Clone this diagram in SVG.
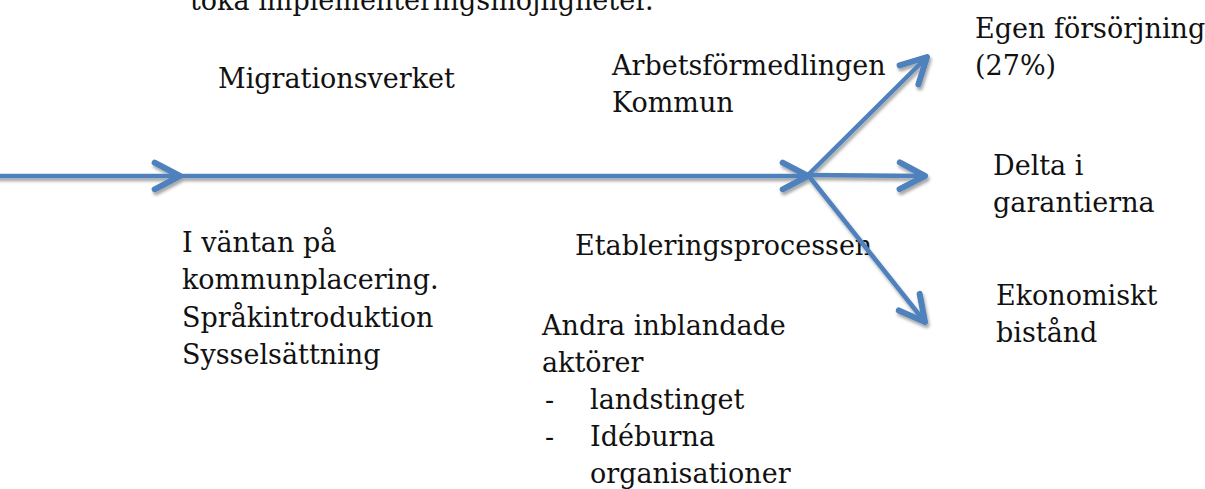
<svg xmlns="http://www.w3.org/2000/svg" width="1205" height="489" viewBox="0 0 1205 489">
<style>
.t{font-family:"DejaVu Serif","Liberation Serif",serif;font-size:27px;fill:#111}
.c{fill:none;stroke:#4F81BD;stroke-width:4.5;stroke-linecap:round}
</style>
<defs>
<marker id="ah" markerUnits="userSpaceOnUse" markerWidth="40" markerHeight="40" viewBox="-25 -15 30 30" refX="0" refY="0" orient="auto">
<path d="M-19,-10 L0,0 L-19,10" fill="none" stroke="#4F81BD" stroke-width="4.5" stroke-linecap="round" stroke-linejoin="round"/>
</marker>
<filter id="sh" x="-5%" y="-20%" width="110%" height="140%">
<feDropShadow dx="1.5" dy="3" stdDeviation="1.5" flood-color="#000" flood-opacity="0.35"/>
</filter>
</defs>
<g id="texts">
<g id="note"><text class="t" x="190" y="10">töka implementeringsmöjligheter.</text></g>
<g id="migrationsverket"><text class="t" x="218" y="88">Migrationsverket</text></g>
<g id="arbetsformedlingen"><text class="t" x="612" y="75">Arbetsförmedlingen</text><text class="t" x="612" y="112">Kommun</text></g>
<g id="egen"><text class="t" x="975" y="38">Egen försörjning</text><text class="t" x="975" y="75">(27%)</text></g>
<g id="delta"><text class="t" x="993" y="175">Delta i</text><text class="t" x="993" y="212">garantierna</text></g>
<g id="ekonomiskt"><text class="t" x="996" y="305">Ekonomiskt</text><text class="t" x="996" y="342">bistånd</text></g>
<g id="vantan"><text class="t" x="182" y="252">I väntan på</text><text class="t" x="182" y="289">kommunplacering.</text><text class="t" x="182" y="327">Språkintroduktion</text><text class="t" x="182" y="364">Sysselsättning</text></g>
<g id="etablering"><text class="t" x="575" y="255">Etableringsprocessen</text></g>
<g id="andra"><text class="t" x="542" y="335">Andra inblandade</text><text class="t" x="542" y="372">aktörer</text><text class="t" x="545" y="409">-</text><text class="t" x="590" y="409">landstinget</text><text class="t" x="545" y="446">-</text><text class="t" x="590" y="446">Idéburna</text><text class="t" x="590" y="483">organisationer</text></g>
</g>
<g id="connectors" filter="url(#sh)">
<line class="c" x1="-5" y1="176" x2="180" y2="176" marker-end="url(#ah)"/>
<line class="c" x1="180" y1="176" x2="808" y2="176" marker-end="url(#ah)"/>
<line class="c" x1="808" y1="175" x2="927" y2="57" marker-end="url(#ah)"/>
<line class="c" x1="808" y1="175" x2="925" y2="176" marker-end="url(#ah)"/>
<line class="c" x1="808" y1="175" x2="925" y2="322" marker-end="url(#ah)"/>
</g>
</svg>
